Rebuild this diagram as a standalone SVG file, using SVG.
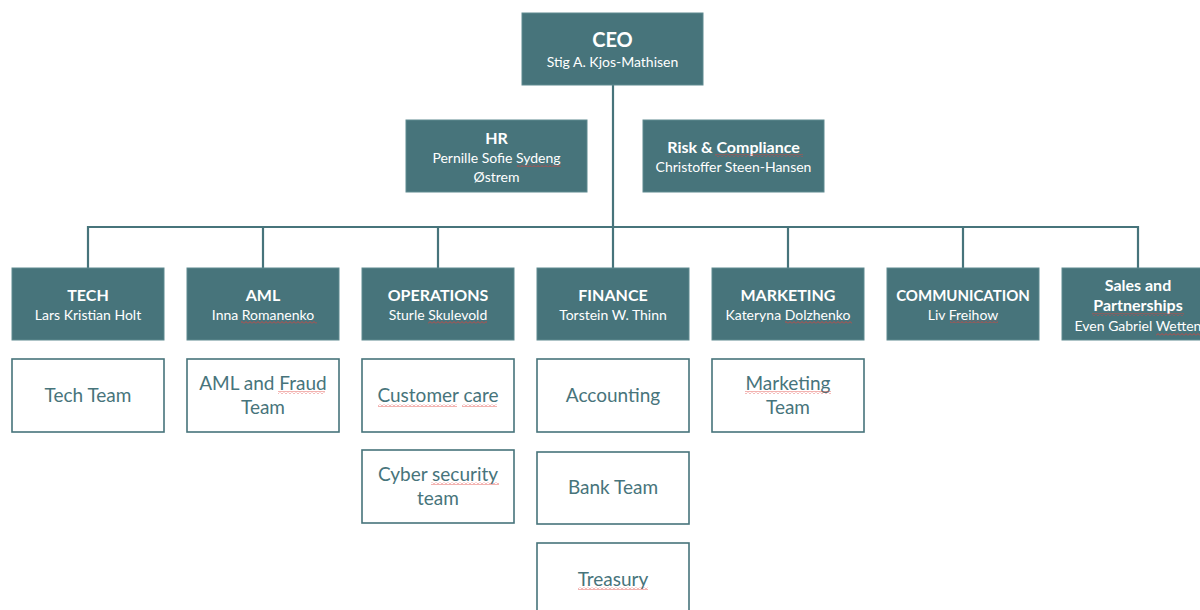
<svg xmlns="http://www.w3.org/2000/svg" width="1200" height="610" viewBox="0 0 1200 610">
  <defs>
    <pattern id="squiggle" patternUnits="userSpaceOnUse" width="4" height="3">
      <path d="M0,2.5 L2,0.5 L4,2.5" fill="none" stroke="#e0403a" stroke-width="0.8"/>
    </pattern>
    <style>
      .head { fill: #47747b; stroke: #5f8a90; stroke-width: 1; }
      .team { fill: #ffffff; stroke: #47747b; stroke-width: 1.6; }
      .link { fill: none; stroke: #47747b; stroke-width: 2.2; }
      .title { font-family: Lato, "Liberation Sans", sans-serif; font-weight: 700; font-size: 16px; fill: #ffffff; text-anchor: middle; }
      .name { font-family: Lato, "Liberation Sans", sans-serif; font-size: 14px; fill: #ffffff; text-anchor: middle; }
      .label { font-family: Lato, "Liberation Sans", sans-serif; font-size: 19px; fill: #47747b; text-anchor: middle; }
      .spell { fill: url(#squiggle); }
    </style>
  </defs>
  <rect width="1200" height="610" fill="#ffffff"/>

  <!-- connectors -->
  <g id="connectors">
    <path class="link" d="M613,85 V227"/>
    <path class="link" d="M88,268 V227 H1138 V268"/>
    <path class="link" d="M263,227 V268 M438,227 V268 M613,227 V268 M788,227 V268 M963,227 V268"/>
  </g>

  <!-- executive -->
  <g id="ceo">
    <rect class="head" x="522" y="13" width="181" height="72"/>
    <text class="title" x="612.5" y="47" font-size="20" style="font-size:20px">CEO</text>
    <text class="name" x="612.5" y="67">Stig A. Kjos-Mathisen</text>
  </g>
  <g id="hr">
    <rect class="head" x="406" y="120" width="181" height="72"/>
    <text class="title" x="496.5" y="144">HR</text>
    <text class="name" x="496.5" y="163">Pernille Sofie Sydeng</text>
    <text class="name" x="496.5" y="182">Østrem</text>
    <rect class="spell" x="517" y="164" width="44" height="3"/>
  </g>
  <g id="risk">
    <rect class="head" x="643" y="120" width="181" height="72"/>
    <text class="title" x="733.5" y="153">Risk &amp; Compliance</text>
    <text class="name" x="733.5" y="172">Christoffer Steen-Hansen</text>
    <rect class="spell" x="715" y="154" width="88" height="3"/>
  </g>

  <!-- departments -->
  <g id="tech">
    <rect class="head" x="12" y="268" width="152" height="72"/>
    <text class="title" x="88" y="301">TECH</text>
    <text class="name" x="88" y="320">Lars Kristian Holt</text>
  </g>
  <g id="aml">
    <rect class="head" x="187" y="268" width="152" height="72"/>
    <text class="title" x="263" y="301">AML</text>
    <text class="name" x="263" y="320">Inna Romanenko</text>
    <rect class="spell" x="241" y="321" width="76" height="3"/>
  </g>
  <g id="operations">
    <rect class="head" x="362" y="268" width="152" height="72"/>
    <text class="title" x="438" y="301">OPERATIONS</text>
    <text class="name" x="438" y="320">Sturle Skulevold</text>
    <rect class="spell" x="428" y="321" width="59" height="3"/>
  </g>
  <g id="finance">
    <rect class="head" x="537" y="268" width="152" height="72"/>
    <text class="title" x="613" y="301">FINANCE</text>
    <text class="name" x="613" y="320">Torstein W. Thinn</text>
  </g>
  <g id="marketing">
    <rect class="head" x="712" y="268" width="152" height="72"/>
    <text class="title" x="788" y="301">MARKETING</text>
    <text class="name" x="788" y="320">Kateryna Dolzhenko</text>
    <rect class="spell" x="785" y="321" width="67" height="3"/>
  </g>
  <g id="communication">
    <rect class="head" x="887" y="268" width="152" height="72"/>
    <text class="title" x="963" y="301" style="font-size:15px">COMMUNICATION</text>
    <text class="name" x="963" y="320">Liv Freihow</text>
    <rect class="spell" x="950" y="320" width="48" height="3"/>
  </g>
  <g id="sales">
    <rect class="head" x="1062" y="268" width="152" height="72"/>
    <text class="title" x="1138" y="291">Sales and</text>
    <text class="title" x="1138" y="311">Partnerships</text>
    <text class="name" x="1138" y="331">Even Gabriel Wetten</text>
    <rect class="spell" x="1092" y="313" width="92" height="3"/>
    <rect class="spell" x="1156" y="333" width="44" height="3"/>
  </g>

  <!-- teams -->
  <g id="tech-team">
    <rect class="team" x="12" y="359" width="152" height="73"/>
    <text class="label" x="88" y="402">Tech Team</text>
  </g>
  <g id="aml-team">
    <rect class="team" x="187" y="359" width="152" height="73"/>
    <text class="label" x="263" y="390">AML and Fraud</text>
    <text class="label" x="263" y="414">Team</text>
    <rect class="spell" x="278" y="391" width="47" height="3"/>
  </g>
  <g id="customer-care">
    <rect class="team" x="362" y="359" width="152" height="73"/>
    <text class="label" x="438" y="402">Customer care</text>
    <rect class="spell" x="378" y="404" width="79" height="3"/>
    <rect class="spell" x="462" y="404" width="35" height="3"/>
  </g>
  <g id="cyber-security">
    <rect class="team" x="362" y="450" width="152" height="73"/>
    <text class="label" x="438" y="481">Cyber security</text>
    <text class="label" x="438" y="505">team</text>
    <rect class="spell" x="431" y="482" width="68" height="3"/>
  </g>
  <g id="accounting">
    <rect class="team" x="537" y="359" width="152" height="73"/>
    <text class="label" x="613" y="402">Accounting</text>
  </g>
  <g id="bank-team">
    <rect class="team" x="537" y="452" width="152" height="72"/>
    <text class="label" x="613" y="494">Bank Team</text>
  </g>
  <g id="treasury">
    <rect class="team" x="537" y="543" width="152" height="80"/>
    <text class="label" x="613" y="586">Treasury</text>
    <rect class="spell" x="578" y="587" width="70" height="3"/>
  </g>
  <g id="marketing-team">
    <rect class="team" x="712" y="359" width="152" height="73"/>
    <text class="label" x="788" y="390">Marketing</text>
    <text class="label" x="788" y="414">Team</text>
    <rect class="spell" x="745" y="391" width="86" height="3"/>
  </g>
</svg>
